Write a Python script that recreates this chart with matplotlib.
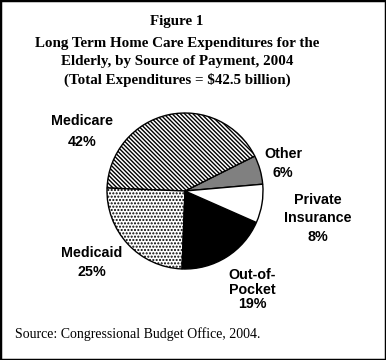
import matplotlib
matplotlib.use("Agg")
import matplotlib.pyplot as plt
from matplotlib.patches import Rectangle

# datos del grafico (orden antihorario desde ~5 grados)
labels = ["Other", "Medicare", "Medicaid", "Out-of-Pocket", "Private Insurance"]
shares = [6, 42, 25, 19, 8]
title_lines = ["Figure 1",
               "Long Term Home Care Expenditures for the",
               "Elderly, by Source of Payment, 2004",
               "(Total Expenditures = $42.5 billion)"]
source = "Source: Congressional Budget Office, 2004."

W, H = 386, 360
fig = plt.figure(figsize=(W / 100, H / 100), dpi=100)
fig.patch.set_facecolor("white")

def px(x, y):
    return x / W, 1 - y / H

# pie, centro (185,191) radio 78 px
cx, cy, r = 185, 191, 78
ax = fig.add_axes([(cx - r) / W, (H - cy - r) / H, 2 * r / W, 2 * r / H])
wedges, _ = ax.pie(shares, startangle=5, counterclock=True,
                   wedgeprops=dict(edgecolor="black", linewidth=1.0))
ax.set_xlim(-1, 1)
ax.set_ylim(-1, 1)
ax.set_aspect("auto")
ax.axis("off")

plt.rcParams["hatch.linewidth"] = 0.9
fills = ["#808080", "white", "white", "black", "white"]
hatches = [None, "\\" * 8, "." * 5, None, None]
for w, f, h in zip(wedges, fills, hatches):
    w.set_facecolor(f)
    if h:
        w.set_hatch(h)

# titulo
for txt, y in zip(title_lines, [22, 43, 62, 80]):
    fig.text(*px(177, y), txt, ha="center", va="center",
             family="Liberation Serif", weight="bold", fontsize=10.8)

# etiquetas del pie
lab_lines = {
    "Medicare": (82, [121, 142], ["Medicare", "42%"]),
    "Medicaid": (92, [253, 272], ["Medicaid", "25%"]),
    "Out-of-Pocket": (252, [275, 290, 304], ["Out-of-", "Pocket", "19%"]),
    "Other": (283, [154, 173], ["Other", "6%"]),
    "Private Insurance": (318, [200, 218, 237], ["Private", "Insurance", "8%"]),
}
for name in labels:
    x, ys, lines = lab_lines[name]
    for t, y in zip(lines, ys):
        fig.text(*px(x, y), t, ha="center", va="center",
                 family="Liberation Sans", weight="bold", fontsize=10.3)

fig.text(*px(15, 334), source, ha="left", va="center",
         family="Liberation Serif", fontsize=10)

fig.patches.append(Rectangle((0, 0), 1, 1, transform=fig.transFigure,
                             fill=False, edgecolor="black", linewidth=2.5))

fig.savefig("out.png", dpi=100)
